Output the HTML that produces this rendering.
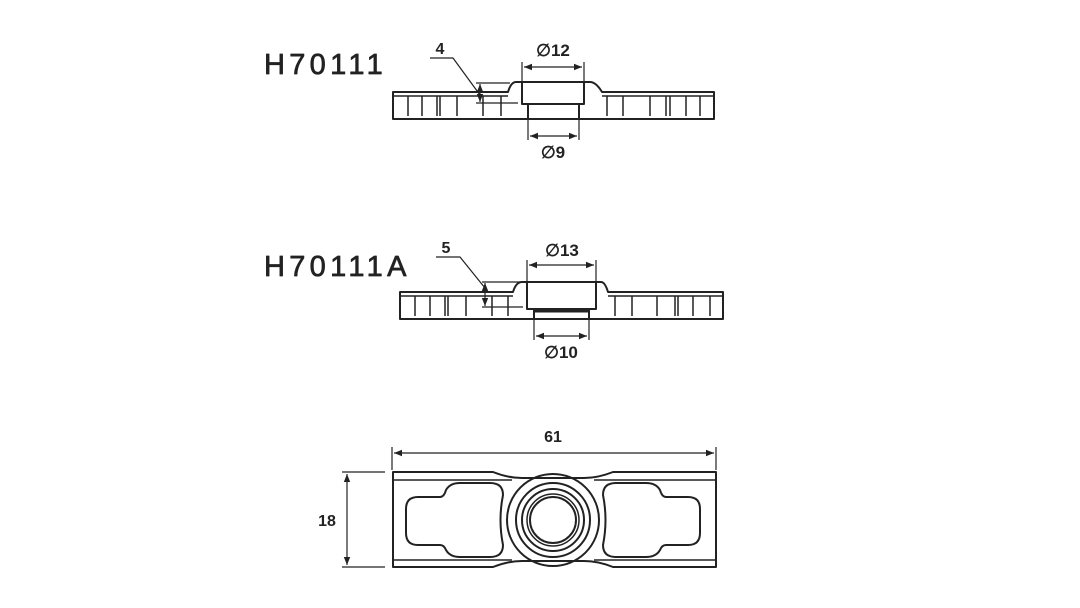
<!DOCTYPE html>
<html><head><meta charset="utf-8"><style>
html,body{margin:0;padding:0;background:#fff;}
svg{display:block;}
text{font-family:"Liberation Sans",sans-serif;fill:#222;}
</style></head><body>
<svg width="1080" height="608" viewBox="0 0 1080 608" xmlns="http://www.w3.org/2000/svg">
<defs>
<marker id="a" viewBox="0 0 10 10" refX="10" refY="5" markerWidth="8" markerHeight="8" orient="auto-start-reverse" markerUnits="userSpaceOnUse"><path d="M0,1 L10,5 L0,9 Z" fill="#222"/></marker>
</defs>
<g stroke="#222" fill="none" stroke-width="2" stroke-linejoin="round">

<!-- Drawing 1 -->
<text x="264" y="74" font-size="29" letter-spacing="4.3" stroke="#222" stroke-width="0.7">H70111</text>
<path d="M393 92 H508 Q511 82 516 82 H590 Q596 82 602 92 H714 V119 H393 Z"/>
<path d="M393 96 H508 M602 96 H714" stroke-width="1.5"/>
<path d="M522 82 V104 H584 V82 M528 104 V119 M579 104 V119" />
<g stroke-width="1.5">
<path d="M408 96V116 M422 96V116 M437 96V116 M440 96V116 M457 96V116 M483 96V116 M501 96V116"/>
<path d="M607 96V116 M623 96V116 M650 96V116 M666 96V116 M670 96V116 M686 96V116 M700 96V116"/>
</g>
<g stroke-width="1.2">
<path d="M522 62 V82 M584 62 V82 M528 119 V140 M579 119 V140"/>
<path d="M524 67 H582" marker-start="url(#a)" marker-end="url(#a)"/>
<path d="M530 136 H577" marker-start="url(#a)" marker-end="url(#a)"/>
<path d="M476 83 H510 M476 103 H518"/>
<path d="M480 84 V102" marker-start="url(#a)" marker-end="url(#a)"/>
<path d="M430 58 H453 L480 95"/>
</g>
<text x="553" y="56" font-size="17" font-weight="bold" text-anchor="middle" stroke="none">∅12</text>
<text x="553" y="158" font-size="17" font-weight="bold" text-anchor="middle" stroke="none">∅9</text>
<text x="440" y="54" font-size="16" font-weight="bold" text-anchor="middle" stroke="none">4</text>

<!-- Drawing 2 -->
<text x="264" y="276" font-size="29" letter-spacing="4.3" stroke="#222" stroke-width="0.7">H70111A</text>
<path d="M400 292 H513 Q516 282 522 282 H601 Q605 282 608 292 H723 V319 H400 Z"/>
<path d="M400 296 H513 M608 296 H723" stroke-width="1.5"/>
<path d="M527 282 V309 H596 V282 M534 309 V319 M589 309 V319"/>
<path d="M534 311 H589" stroke-width="3"/>
<g stroke-width="1.5">
<path d="M415 296V316 M430 296V316 M445 296V316 M448 296V316 M466 296V316 M492 296V316 M508 296V316"/>
<path d="M615 296V316 M632 296V316 M657 296V316 M675 296V316 M678 296V316 M693 296V316 M710 296V316"/>
</g>
<g stroke-width="1.2">
<path d="M527 260 V282 M596 260 V282 M534 319 V340 M589 319 V340"/>
<path d="M529 265 H594" marker-start="url(#a)" marker-end="url(#a)"/>
<path d="M536 336 H587" marker-start="url(#a)" marker-end="url(#a)"/>
<path d="M482 282 H520 M482 307 H523"/>
<path d="M485 283 V306" marker-start="url(#a)" marker-end="url(#a)"/>
<path d="M436 257 H460 L485 288"/>
</g>
<text x="562" y="256" font-size="17" font-weight="bold" text-anchor="middle" stroke="none">∅13</text>
<text x="561" y="358" font-size="17" font-weight="bold" text-anchor="middle" stroke="none">∅10</text>
<text x="446" y="253" font-size="16" font-weight="bold" text-anchor="middle" stroke="none">5</text>

<!-- Drawing 3 -->
<path d="M393 472 H493 Q508 478 522 478 H584 Q598 478 613 472 H716 V567 H613 Q598 561 584 561 H522 Q508 561 493 567 H393 Z"/>
<path d="M393 480 H512 M594 480 H716 M393 560 H512 M594 560 H716" stroke-width="1.5"/>
<circle cx="553" cy="520" r="46"/>
<circle cx="553" cy="520" r="37"/>
<circle cx="553" cy="520" r="31"/>
<circle cx="553" cy="520" r="26" stroke-width="1.5"/>
<circle cx="553" cy="520" r="23"/>
<path d="M418 497 H440 Q444 497 446 490 Q450 483 460 483 H490 Q503 483 503 495 Q498 520 503 545 Q503 557 490 557 H460 Q450 557 446 550 Q444 545 440 545 H418 Q406 545 406 533 V509 Q406 497 418 497 Z"/>
<path d="M418 497 H440 Q444 497 446 490 Q450 483 460 483 H490 Q503 483 503 495 Q498 520 503 545 Q503 557 490 557 H460 Q450 557 446 550 Q444 545 440 545 H418 Q406 545 406 533 V509 Q406 497 418 497 Z" transform="translate(1106,0) scale(-1,1)"/>
<g stroke-width="1.2">
<path d="M392 447 V470 M716 447 V470"/>
<path d="M394 453 H714" marker-start="url(#a)" marker-end="url(#a)"/>
<path d="M342 472 H385 M342 567 H385"/>
<path d="M347 474 V565" marker-start="url(#a)" marker-end="url(#a)"/>
</g>
<text x="553" y="442" font-size="16" font-weight="bold" text-anchor="middle" stroke="none">61</text>
<text x="327" y="526" font-size="16" font-weight="bold" text-anchor="middle" stroke="none">18</text>
</g>
</svg>
</body></html>
